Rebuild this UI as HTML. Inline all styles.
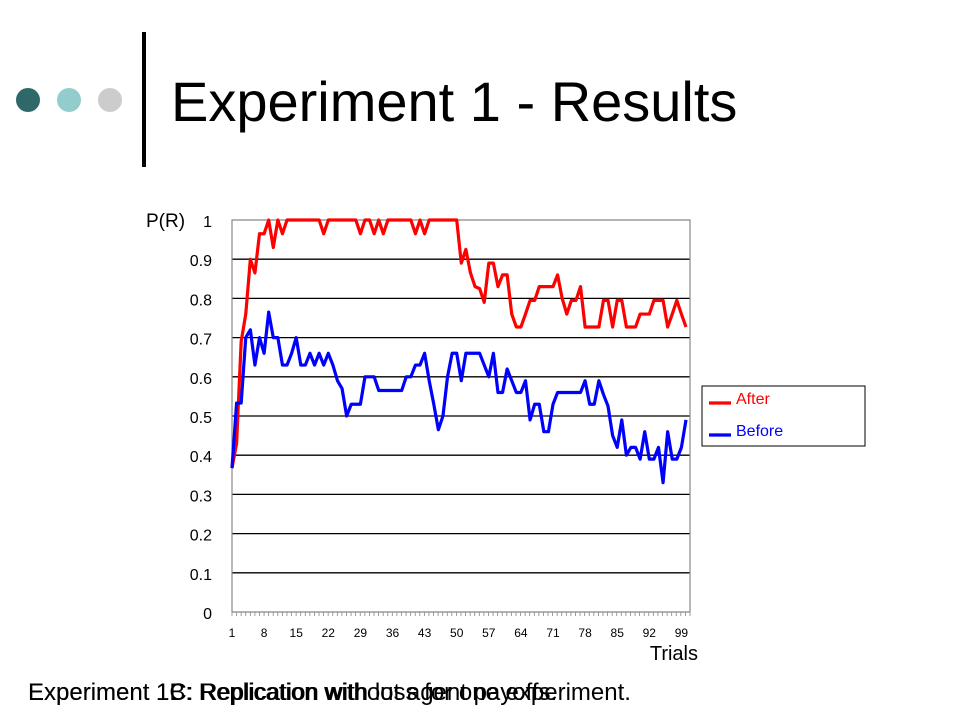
<!DOCTYPE html>
<html><head><meta charset="utf-8"><style>
body{margin:0;background:#fff;font-family:"Liberation Sans",Arial,sans-serif}
#root{position:relative;width:960px;height:720px;overflow:hidden;background:#fff}
</style></head><body>
<div id="root">
<svg width="960" height="720" style="position:absolute;left:0;top:0">
<circle cx="28" cy="100" r="12" fill="#2e6868"/>
<circle cx="69" cy="100" r="12" fill="#93cccc"/>
<circle cx="110" cy="100" r="12" fill="#cccccc"/>
<rect x="142" y="32" width="4" height="135" fill="#000"/>
<text x="171" y="121" font-size="56" fill="#000">Experiment 1 - Results</text>
<g id="chart"></g>
<text x="28" y="700" font-size="24" fill="#000">Experiment 1B: Replication without agent payoffs.</text>
<text x="28" y="700" font-size="24" fill="#000">Experiment 1C: Replication with loss for one experiment.</text>
</svg>
</div>
<script>
const after = [.367,.43,.69,.76,.90,.865,.965,.965,1,.93,
1,.965,1,1,1,1,1,1,1,1,
.965,1,1,1,1,1,1,1,.965,1,
1,.965,1,.965,1,1,1,1,1,1,
.965,1,.965,1,1,1,1,1,1,1,
.89,.925,.865,.83,.825,.79,.89,.89,.83,.86,
.86,.76,.727,.727,.76,.795,.795,.83,.83,.83,
.83,.86,.8,.76,.795,.795,.83,.727,.727,.727,
.727,.795,.795,.727,.795,.795,.727,.727,.727,.76,
.76,.76,.795,.795,.795,.727,.76,.795,.76,.727];
const before = [.367,.533,.533,.70,.72,.63,.70,.66,.765,.70,
.70,.63,.63,.66,.70,.63,.63,.66,.63,.66,
.63,.66,.63,.59,.57,.50,.53,.53,.53,.6,
.6,.6,.565,.565,.565,.565,.565,.565,.6,.6,
.63,.63,.66,.59,.53,.465,.5,.6,.66,.66,
.59,.66,.66,.66,.66,.63,.6,.66,.56,.56,
.62,.59,.56,.56,.59,.49,.53,.53,.46,.46,
.53,.56,.56,.56,.56,.56,.56,.59,.53,.53,
.59,.555,.525,.45,.42,.49,.40,.42,.42,.39,
.46,.39,.39,.42,.33,.46,.39,.39,.42,.49];
const yTicks = [0,0.1,0.2,0.3,0.4,0.5,0.6,0.7,0.8,0.9,1];
const xTickLabels = [1,8,15,22,29,36,43,50,57,64,71,78,85,92,99];
const seriesNames = ["After","Before"];

const NS="http://www.w3.org/2000/svg";
const g=document.getElementById('chart');
const L=232,R=690,T=220,B=612;
const x=i=>L+(i-1)*(686-L)/99;
const y=v=>B-v*(B-T);
function mk(tag,attrs,parent){const e=document.createElementNS(NS,tag);for(const k in attrs)e.setAttribute(k,attrs[k]);(parent||g).appendChild(e);return e;}
yTicks.forEach(v=>{
  if(v>0&&v<1){const l=mk('line',{x1:L,x2:R,y1:y(v),y2:y(v),stroke:'#000','stroke-width':1.3});
  
  }
  const t=mk('text',{x:212,y:y(v)+7,'font-size':16,'text-anchor':'end',fill:'#000'});
  t.textContent=v===0?'0':(v===1?'1':v.toFixed(1));
  
  
});
const frame=mk('path',{d:`M${L},${B}V${T}H${R}V${B}`,fill:'none',stroke:'#888','stroke-width':1.2});


const xa=mk('line',{x1:L,x2:R,y1:B,y2:B,stroke:'#888','stroke-width':1.2});


for(let i=1;i<=after.length+1;i++){const px=L+(i-1)*(R-L)/after.length;
  const tk=mk('line',{x1:px,x2:px,y1:B,y2:B+4,stroke:'#888','stroke-width':0.8});
  
  }
xTickLabels.forEach(n=>{const t=mk('text',{x:x(n),y:637,'font-size':12,'text-anchor':'middle',fill:'#000'});t.textContent=n;
  
  });
const yt=mk('text',{x:146,y:227,'font-size':19,fill:'#000'});yt.textContent='P(R)';


const xt=mk('text',{x:698,y:660,'font-size':20,'text-anchor':'end',fill:'#000'});xt.textContent='Trials';


[[after,'#f00','after-line'],[before,'#00f','before-line']].forEach(([d,c,n])=>{
  const p=mk('polyline',{points:d.map((v,i)=>x(i+1)+','+y(v)).join(' '),fill:'none',stroke:c,'stroke-width':3.2,'stroke-linejoin':'round'});
  
  
});
const lg=mk('rect',{x:702,y:386,width:163,height:60,fill:'#fff',stroke:'#000','stroke-width':1});


[['#f00',403],['#00f',435]].forEach(([c,yy],k)=>{
  const l=mk('line',{x1:709,x2:731,y1:yy,y2:yy,stroke:c,'stroke-width':3.2});
  
  
  const t=mk('text',{x:736,y:yy+1,'font-size':16,fill:c});t.textContent=seriesNames[k];
  
  
});
</script>
</body></html>
